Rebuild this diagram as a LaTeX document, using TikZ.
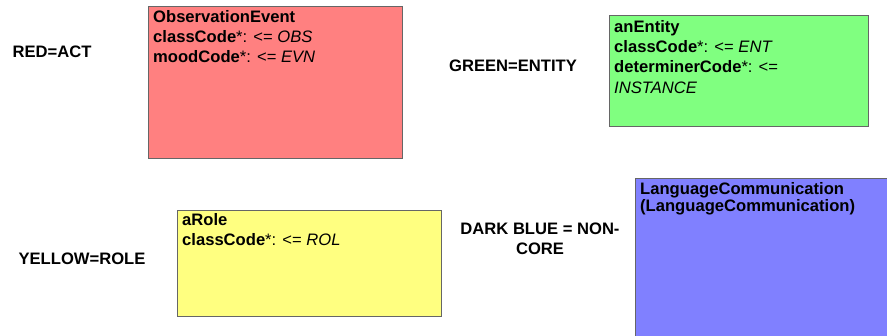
\documentclass[tikz,border=0pt]{standalone}
\usepackage{fontspec}
\setmainfont{Liberation Sans}
\begin{document}
\begin{tikzpicture}[x=1pt,y=-1pt,
  classbox/.style={draw=black!60, line width=0.9pt, rectangle, inner sep=0pt, anchor=north west},
  classtext/.style={anchor=north west, inner sep=0pt, align=left,
    font=\fontsize{16.6}{19.9}\selectfont\bfseries},
  legend/.style={align=center, inner sep=0pt,
    font=\fontsize{16.6}{20}\selectfont\bfseries}]
\newcommand{\attr}[2]{#1\mdseries*: <= \itshape #2}
\useasboundingbox (0,0) rectangle (887,335);
\fill[white] (0,0) rectangle (887,335);
\clip (0,0) rectangle (887,335);

% class boxes
\node[classbox, fill={rgb,255:red,255;green,128;blue,128},
      minimum width=254pt, minimum height=152pt] (act) at (148,6) {};
\node[classbox, fill={rgb,255:red,128;green,255;blue,128},
      minimum width=259pt, minimum height=111pt] (ent) at (609,15) {};
\node[classbox, fill={rgb,255:red,255;green,255;blue,128},
      minimum width=264pt, minimum height=106pt] (rol) at (177,210) {};
\node[classbox, fill={rgb,255:red,128;green,128;blue,255},
      minimum width=270pt, minimum height=170pt] (ncr) at (635,178) {};

% class contents
\node[classtext] (actT) at ([shift={(5,4)}]act.north west)
  {ObservationEvent\\ \attr{classCode}{OBS}\\ \attr{moodCode}{EVN}};
\node[classtext, font=\fontsize{16.6}{20.3}\selectfont\bfseries] (entT) at ([shift={(5,5)}]ent.north west)
  {anEntity\\ \attr{classCode}{ENT}\\ \attr{determinerCode}{}\\ \mdseries\itshape INSTANCE};
\node[classtext] (rolT) at ([shift={(5,3)}]rol.north west)
  {aRole\\ \attr{classCode}{ROL}};
\node[classtext, font=\fontsize{16.6}{16.8}\selectfont\bfseries] (ncrT) at ([shift={(5,4)}]ncr.north west)
  {LanguageCommunication\\ (LanguageCommunication)};

% colour legend
\node[legend] (lRed) at (52,52) {RED=ACT};
\node[legend] (lGreen) at (513,66) {GREEN=ENTITY};
\node[legend] (lYellow) at (82,259) {YELLOW=ROLE};
\node[legend] (lBlue) at (540,239) {DARK BLUE = NON-\\CORE};
\end{tikzpicture}
\end{document}
